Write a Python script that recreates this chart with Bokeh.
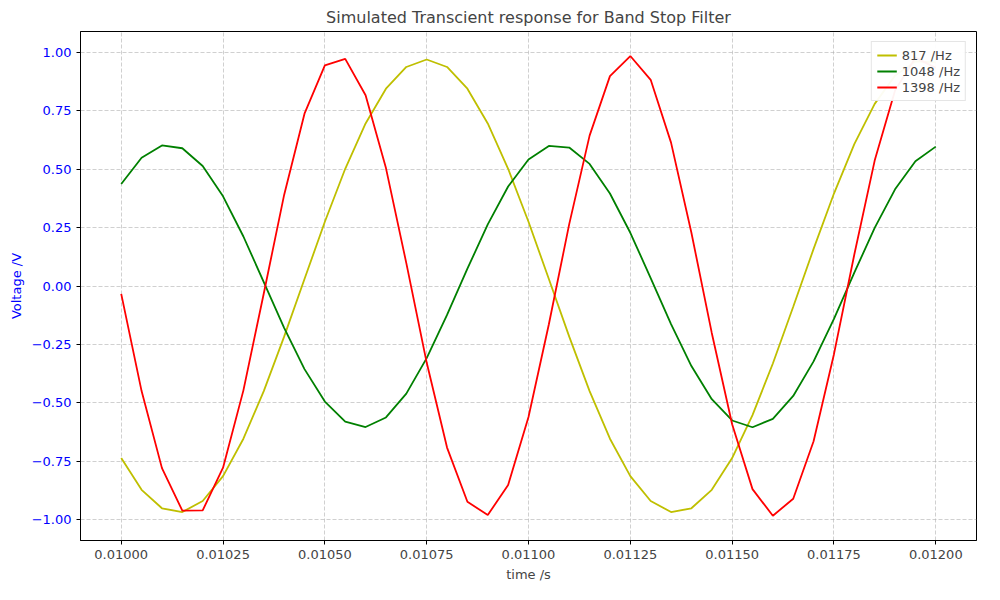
from bokeh.plotting import figure
from bokeh.embed import file_html
from bokeh.resources import INLINE
from bokeh.models import FixedTicker, CustomJSTickFormatter, Range1d

t = [0.01 + 0.00005 * k for k in range(41)]
y817 = [-0.737,-0.873,-0.952,-0.968,-0.921,-0.814,-0.654,-0.450,-0.217,0.030,0.275,0.502,0.696,0.845,0.938,0.970,
        0.938,0.845,0.696,0.502,0.275,0.030,-0.217,-0.450,-0.654,-0.814,-0.921,-0.968,-0.952,-0.873,-0.737,-0.553,
        -0.332,-0.089,0.159,0.396,0.608,0.780,0.901,0.962,0.958]
y1048 = [0.437,0.549,0.602,0.590,0.514,0.384,0.212,0.017,-0.179,-0.356,-0.495,-0.581,-0.604,-0.563,-0.461,-0.309,
         -0.124,0.074,0.264,0.426,0.542,0.600,0.593,0.523,0.396,0.228,0.034,-0.163,-0.343,-0.485,-0.576,-0.605,
         -0.569,-0.471,-0.323,-0.141,0.057,0.249,0.414,0.534,0.597]
y1398 = [-0.034,-0.450,-0.780,-0.962,-0.961,-0.778,-0.447,-0.032,0.390,0.738,0.945,0.973,0.817,0.505,0.098,-0.328,
         -0.692,-0.924,-0.981,-0.852,-0.561,-0.164,0.265,0.644,0.899,0.985,0.883,0.614,0.228,-0.201,-0.592,-0.870,
         -0.984,-0.911,-0.665,-0.292,0.135,0.537,0.837,0.978,0.934]
xticks = [0.01, 0.01025, 0.0105, 0.01075, 0.011, 0.01125, 0.0115, 0.01175, 0.012]
yticks = [-1.0, -0.75, -0.5, -0.25, 0.0, 0.25, 0.5, 0.75, 1.0]

p = figure(width=984, height=584, output_backend="svg", toolbar_location=None,
           title="Simulated Transcient response for Band Stop Filter",
           x_range=Range1d(0.0099, 0.0121), y_range=Range1d(-1.09, 1.09),
           x_axis_label="time /s", y_axis_label="Voltage /V", min_border_left=80, min_border_right=8)
p.title.align = "center"
p.title.text_font_size = "16px"
p.title.text_font_style = "normal"
p.title.text_font = "DejaVu Sans"
p.line(t, y817, color="#bfbf00", line_width=1.8, legend_label="817 /Hz")
p.line(t, y1048, color="green", line_width=1.8, legend_label="1048 /Hz")
p.line(t, y1398, color="red", line_width=1.8, legend_label="1398 /Hz")

p.xaxis.ticker = FixedTicker(ticks=xticks)
p.yaxis.ticker = FixedTicker(ticks=yticks)
p.xaxis.formatter = CustomJSTickFormatter(code="return tick.toFixed(5);")
p.yaxis.formatter = CustomJSTickFormatter(code="return tick.toFixed(2).replace('-', '\u2212');")
for ax in (p.xaxis, p.yaxis):
    ax.axis_label_text_font_style = "normal"
    ax.axis_label_text_font = "DejaVu Sans"
    ax.major_label_text_font = "DejaVu Sans"
    ax.major_label_text_font_size = "13px"
    ax.axis_label_text_font_size = "13px"
    ax.minor_tick_line_color = None
    ax.major_tick_in = 0
    ax.major_tick_out = 4
p.yaxis.major_label_text_color = "blue"
p.yaxis.axis_label_text_color = "blue"
p.grid.grid_line_color = "#b0b0b0"
p.grid.grid_line_dash = "4 2"
p.grid.grid_line_width = 0.6
p.outline_line_color = "black"
p.legend.location = "top_right"
p.legend.label_text_font = "DejaVu Sans"
p.legend.label_text_font_size = "13px"
p.legend.border_line_color = "#cccccc"
p.legend.spacing = 0
p.legend.padding = 5
p.legend.glyph_height = 16
p.legend.label_height = 16

open("out.html", "w").write(file_html(p, INLINE))
